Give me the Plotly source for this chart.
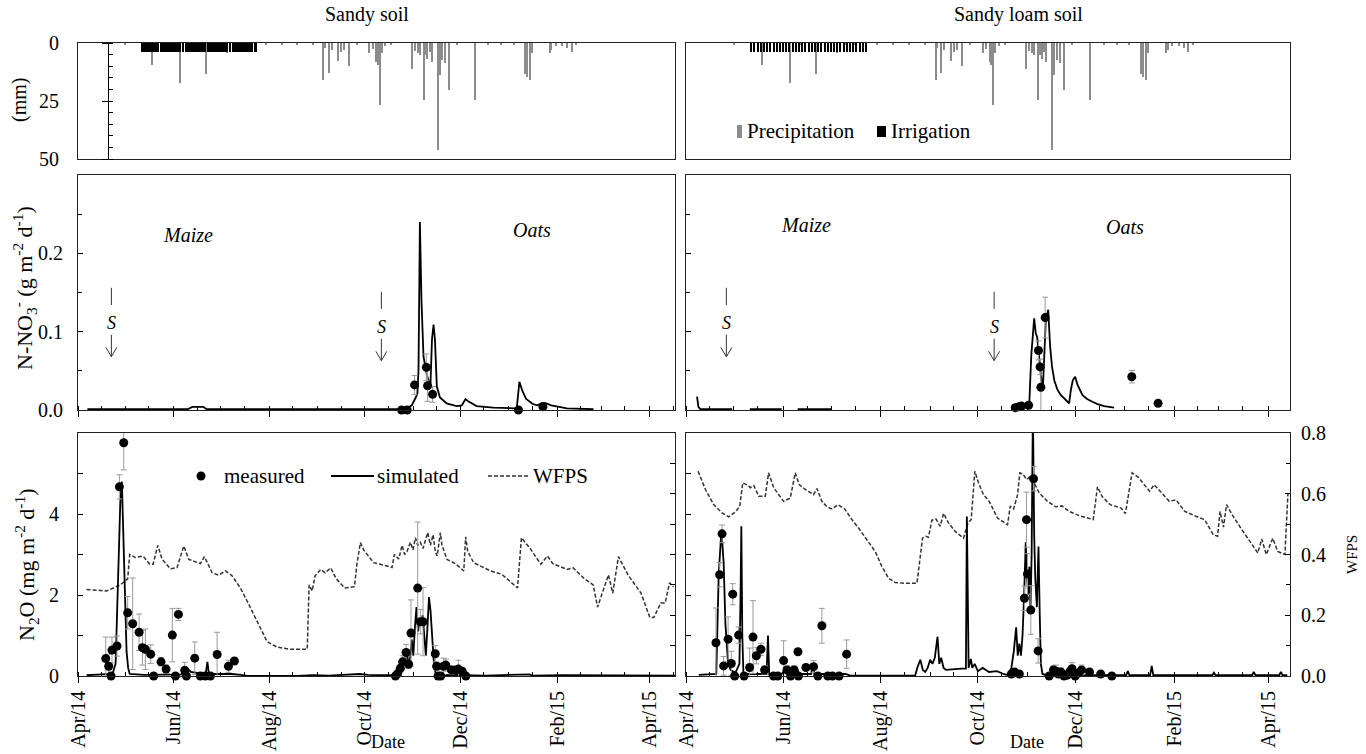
import pandas as pd
import plotly.graph_objects as go

W, H = 1366, 754
BASE = pd.Timestamp("2014-04-01")
FONT = "Liberation Serif"
DAY = 86400000

# ---------------- data (days after 1 Apr 2014) ----------------
precip_day = [30, 47.5, 55, 65, 72, 81.5, 95, 100, 106, 120,
              130, 140, 150, 156.5, 157.5, 160, 162, 166, 168, 170,
              173, 178, 186, 188, 190.5, 191.5, 192.5, 194, 196, 200,
              213.5, 215, 217, 218, 220.8, 222, 223, 224.5, 226, 229.5,
              231, 232.5, 234.5, 237, 242, 253.5, 262, 270, 278, 285.5,
              286.8, 288.3, 290, 301, 302, 305, 309, 312, 315, 318]
precip_mm = [1, 9.5, 1.2, 17.2, 0.8, 13.5, 4.5, 0.8, 1, 0.6,
             0.5, 0.8, 1, 15.8, 2, 12.8, 3, 7.6, 4, 3,
             10, 1, 4.5, 2.5, 8, 9.5, 26.7, 4.5, 1.5, 1,
             11, 3.5, 4.5, 5, 24.5, 5, 7, 4, 8, 46,
             14, 7.5, 8.5, 20.3, 1, 24.6, 0.8, 0.6, 0.5, 13.5,
             14.5, 15.8, 4.5, 4.5, 3, 1.5, 1.5, 2, 3.8, 1]
irr_day = [41, 43, 45, 47, 49, 51, 53, 55, 57, 59, 61, 63, 65, 67, 69, 71, 73, 75, 77,
           79, 81, 83, 85, 87, 89, 91, 93, 95, 97, 99, 101, 103, 105, 107, 109, 111, 113]
irr_mm = [3.8, 3.8, 3.8, 3.8, 3.8, 3.8, 3.8, 3.8, 3.8, 3.8, 3.8, 3.8, 3.8, 3.8, 3.8, 3.8, 3.8, 3.8, 3.8,
          3.8, 3.8, 3.8, 3.8, 3.8, 3.8, 3.8, 3.8, 3.8, 3.8, 3.8, 3.8, 3.8, 3.8, 3.8, 3.8, 3.8, 3.8]

# Sandy soil: nitrate leaching (g m-2 d-1)
sandy_no3_sim_day = [6, 40, 70, 73, 80, 82, 120, 160, 200, 206,
                     210, 213, 215.3, 216.6, 217.3, 218.2, 219.2, 220.5, 222.6, 224.9,
                     225.9, 226.9, 227.8, 229, 231, 235.3, 241.6, 245, 247.3, 249,
                     254.4, 265, 280, 281.7, 283.5, 286, 290, 293, 295.8, 298,
                     302, 312, 329]
sandy_no3_sim_val = [0.001, 0.001, 0.001, 0.004, 0.004, 0.001, 0.001, 0.001, 0.001, 0.001,
                     0.002, 0.006, 0.015, 0.021, 0.05, 0.24, 0.14, 0.068, 0.045, 0.03,
                     0.09, 0.109, 0.09, 0.03, 0.016, 0.0085, 0.005, 0.006, 0.014, 0.011,
                     0.005, 0.003, 0.002, 0.036, 0.025, 0.014, 0.008, 0.006, 0.0085, 0.009,
                     0.006, 0.002, 0.001]
sandy_no3_obs_day = [206.5, 210.1, 214.8, 222.3, 223.1, 226.3, 281.1, 296.7]
sandy_no3_obs_val = [0.0, 0.0, 0.032, 0.0545, 0.031, 0.02, 0.0, 0.004]
sandy_no3_obs_err = [0, 0, 0.012, 0.017, 0.02, 0.01, 0, 0]

# Sandy loam soil: nitrate leaching
loam_no3_sim_day = [6.9, 7.8, 9, 29, None, 40, 60, None, 70, 91,
                    None, 205, 210, 213, 215.2, 216.5, 218.3, 219.3, 220.2, 221.4,
                    222.9, 223.8, 224.6, 225.6, 227.1, 228.3, 229.5, 231, 232.9, 235,
                    237.1, 240.2, 241.3, 242.5, 244, 245.5, 248.6, 251.5, 254.8, 258,
                    262.2, 268.4]
loam_no3_sim_val = [0.017, 0.004, 0.001, 0.001, None, 0.001, 0.001, None, 0.001, 0.001,
                    None, 0.001, 0.003, 0.005, 0.006, 0.07, 0.117, 0.098, 0.093, 0.068,
                    0.038, 0.03, 0.06, 0.115, 0.128, 0.081, 0.055, 0.037, 0.026, 0.019,
                    0.015, 0.0085, 0.0255, 0.038, 0.0425, 0.032, 0.019, 0.014, 0.0106, 0.0075,
                    0.005, 0.003]
loam_no3_obs_day = [206.4, 208.5, 210.4, 214.8, 221, 222, 222.5, 225.2, 279.5, 296]
loam_no3_obs_val = [0.003, 0.004, 0.005, 0.006, 0.076, 0.055, 0.029, 0.118, 0.0425, 0.0085]
loam_no3_obs_err = [0, 0, 0, 0.003, 0.012, 0.01, 0.03, 0.026, 0.008, 0.004]

# Sandy soil: N2O (mg m-2 d-1)
sandy_n2o_sim_day = [5.5, 22, 24, 25, 26, 27, 28, 29, 30, 31,
                     32, 33, 42, 66, 68, 70, 72, 75, 80, 81.5,
                     82.6, 83.5, 90, 98, 104, 108, 140, 150, 160, 175,
                     180, 185, 190, 200, 203, 205, 207, 208, 209, 210,
                     211, 212, 213, 214, 215, 216, 217, 218, 219, 220,
                     221, 222, 223, 224, 225, 226, 227, 228, 229, 240,
                     260, 288, 290, 310, 340, 381]
sandy_n2o_sim_val = [0.02, 0.05, 0.3, 1.5, 3.2, 4.3, 4.8, 3.5, 1.8, 0.6,
                     0.2, 0.05, 0.03, 0.04, 0.15, 0.18, 0.1, 0.08, 0.05, 0.06,
                     0.35, 0.05, 0.05, 0.05, 0.03, 0.0, 0.0, 0.02, 0.01, 0.03,
                     0.05, 0.03, 0.02, 0.02, 0.05, 0.15, 0.35, 0.45, 0.3, 0.55,
                     0.3, 0.45, 0.9, 0.5, 1.2, 1.7, 1.1, 1.4, 1.3, 1.5,
                     1.0, 0.5, 1.2, 1.95, 1.6, 0.9, 0.4, 0.1, 0.02, 0.03,
                     0.01, 0.04, 0.01, 0.02, 0.02, 0.01]
sandy_n2o_obs_day = [17.7, 19.6, 21.1, 21.7, 24.9, 26.4, 29.2, 31.7, 34.9, 39,
                     41.1, 43, 46.4, 48.3, 53, 56.2, 60.2, 62.2, 64.1, 68.1,
                     69.2, 74.5, 78.1, 81.3, 84.5, 88.8, 96, 99.8, 202.6, 204,
                     205.7, 207.2, 209.4, 211, 212.5, 216.8, 218.5, 220.2, 228, 228.9,
                     229.8, 231.5, 233.2, 234.7, 238.3, 241.1, 242.8, 245.2, 247.5]
sandy_n2o_obs_val = [0.43, 0.24, 0.0, 0.64, 0.74, 4.67, 5.76, 1.56, 1.29, 1.08,
                     0.70, 0.66, 0.54, 0.0, 0.35, 0.17, 1.01, 0.0, 1.52, 0.14,
                     0.0, 0.44, 0.0, 0.0, 0.0, 0.53, 0.24, 0.37, 0.0, 0.06,
                     0.19, 0.35, 0.58, 0.29, 1.06, 2.17, 1.34, 1.34, 0.55, 0.24,
                     0.0, 0.0, 0.24, 0.27, 0.15, 0.15, 0.17, 0.12, 0.0]
sandy_n2o_obs_err = [0.53, 0.3, 0, 0.32, 0.25, 0.3, 0.67, 0.4, 1.13, 0.45,
                     0.43, 0.5, 0.23, 0, 0.1, 0.1, 0.66, 0, 0.15, 0.2,
                     0, 0.4, 0, 0, 0, 0.55, 0.15, 0.05, 0, 0.05,
                     0.1, 0.15, 0.2, 0.1, 0.82, 1.63, 0.3, 0.84, 0.2, 0.1,
                     0, 0, 0.2, 0.15, 0.1, 0.05, 0.22, 0.05, 0]
sandy_wfps_day = [5.5, 18.3, 27, 31.7, 33, 36.6, 41.5, 45.8, 47.9, 50.9,
                  53.7, 59, 63.2, 67.5, 70.7, 78.1, 80.7, 85.6, 89.8, 94.1,
                  98.3, 103.6, 107.9, 114.3, 120.7, 127, 135.5, 146.3, 147.5, 149.4,
                  151.3, 154.9, 157.7, 161.3, 164.8, 170.2, 176.4, 178, 180.2, 182.3,
                  188.7, 195.1, 200.4, 201.9, 204.7, 206.8, 208.5, 210, 212.1, 213.8,
                  215.3, 216.8, 218.5, 220.2, 223.2, 224.9, 226.6, 228, 229.2, 231.3,
                  232.3, 235.5, 240.8, 246.2, 247.4, 248.7, 252.5, 263.2, 270.4, 280.5,
                  283, 288.5, 295.4, 299.6, 303, 312.1, 316, 323.2, 328.8, 331.6,
                  338.5, 341.3, 344.9, 351, 359.3, 364.9, 367.5, 371.9, 374.7, 377.5,
                  380]
sandy_wfps_val = [0.285, 0.28, 0.30, 0.32, 0.40, 0.39, 0.395, 0.368, 0.368, 0.43,
                  0.384, 0.353, 0.357, 0.428, 0.384, 0.37, 0.393, 0.34, 0.332, 0.346,
                  0.33, 0.29, 0.247, 0.18, 0.113, 0.095, 0.088, 0.088, 0.30, 0.28,
                  0.33, 0.351, 0.34, 0.356, 0.32, 0.29, 0.294, 0.368, 0.439, 0.415,
                  0.373, 0.365, 0.357, 0.40, 0.385, 0.43, 0.40, 0.41, 0.44, 0.415,
                  0.455, 0.43, 0.44, 0.42, 0.472, 0.43, 0.465, 0.41, 0.395, 0.472,
                  0.43, 0.384, 0.37, 0.346, 0.458, 0.41, 0.373, 0.346, 0.335, 0.29,
                  0.455, 0.42, 0.368, 0.395, 0.37, 0.351, 0.356, 0.32, 0.30, 0.227,
                  0.333, 0.273, 0.393, 0.333, 0.273, 0.193, 0.193, 0.24, 0.24, 0.307,
                  0.293]

# Sandy loam soil: N2O
loam_n2o_sim_day = [8, 19, 20.5, 22.2, 23.6, 24.7, 26.4, 28, 31, 33.5,
                    34.2, 34.7, 35.3, 36, 40, 50.5, 51.4, 52.2, 60, 62,
                    65, 67, 69.5, 71, 78.5, 79.6, 80.5, 85, 100, 103,
                    143.7, 145, 146.9, 148.5, 150, 151.5, 153.1, 154.5, 156, 157.7,
                    158.8, 160, 161.5, 163, 172.7, 175.5, 176.1, 177.2, 178.6, 179.5,
                    181, 183, 186, 190, 195, 199, 202, 204, 205.5, 207,
                    208, 209, 210, 211, 212, 213, 213.7, 214.5, 215.3, 216,
                    216.7, 217.5, 218.3, 219, 220, 221, 221.8, 222.5, 223.5, 226,
                    250, 276, 277, 278, 291, 292, 293, 330, 331, 332,
                    355, 356, 357, 372, 373, 374, 377]
loam_n2o_sim_val = [0.03, 0.05, 2.5, 3.6, 2.8, 1.3, 0.3, 0.15, 0.08, 0.3,
                    2.0, 3.7, 1.0, 0.05, 0.05, 0.05, 1.0, 0.03, 0.05, 0.15,
                    0.08, 0.12, 0.2, 0.05, 0.05, 0.31, 0.03, 0.05, 0.05, 0.01,
                    0.01, 0.2, 0.4, 0.15, 0.1, 0.2, 0.4, 0.3, 0.45, 0.97,
                    0.3, 0.45, 0.2, 0.15, 0.18, 0.18, 3.94, 0.2, 0.42, 0.2,
                    0.3, 0.12, 0.2, 0.1, 0.12, 0.05, 0.02, 0.2, 0.6, 1.2,
                    0.5, 0.8, 0.5, 1.0, 2.0, 3.3, 2.6, 2.0, 2.7, 1.6,
                    3.0, 6.6, 3.5, 2.4, 1.7, 3.2, 1.5, 0.3, 0.05, 0.02,
                    0.02, 0.02, 0.12, 0.02, 0.02, 0.25, 0.02, 0.02, 0.08, 0.02,
                    0.02, 0.1, 0.02, 0.02, 0.1, 0.02, 0.02]
loam_n2o_obs_day = [18.8, 21.1, 22.6, 23.6, 26.4, 28.4, 29.3, 30.5, 33, 36.4,
                    39.9, 42, 44.1, 47, 49.3, 54.9, 57.6, 61.2, 63.3, 65.6,
                    67.7, 70.2, 70.5, 75.2, 80, 82.7, 85.2, 88.9, 91.8, 96,
                    100.7, 204, 206, 209, 212.2, 213.5, 214.1, 216.2, 217.9, 220.8,
                    227.7, 230.4, 232, 233.5, 235, 237, 239, 240.5, 242, 244,
                    246, 248, 253, 260, 267]
loam_n2o_obs_val = [0.82, 2.5, 3.51, 0.25, 0.91, 0.31, 2.02, 0.0, 1.01, 0.0,
                    0.21, 0.96, 0.5, 0.66, 0.15, 0.0, 0.0, 0.38, 0.15, 0.0,
                    0.15, 0.6, 0.0, 0.21, 0.23, 0.0, 1.24, 0.0, 0.0, 0.0,
                    0.54, 0.05, 0.1, 0.05, 1.92, 3.86, 2.52, 1.63, 4.87, 0.62,
                    0.0, 0.15, 0.12, 0.05, 0.1, 0.0, 0.02, 0.1, 0.18, 0.0,
                    0.07, 0.15, 0.1, 0.05, 0.0]
loam_n2o_obs_err = [0.86, 0.3, 0.22, 0.23, 0.55, 0.3, 0.26, 0, 0.2, 0,
                    0.48, 0.9, 0.2, 0.15, 0.1, 0, 0, 0.49, 0.1, 0,
                    0.1, 0, 0, 0, 0.15, 0, 0.43, 0, 0, 0,
                    0.35, 0, 0, 0, 0.3, 0.68, 0.5, 0.6, 0.3, 0.3,
                    0, 0.1, 0.15, 0.1, 0.1, 0, 0, 0.1, 0.15, 0,
                    0.1, 0.12, 0, 0, 0]
loam_wfps_day = [7.6, 12.2, 17.4, 22.6, 26.8, 31, 33.7, 35.6, 39, 40.4,
                 42.5, 45.6, 49.7, 51.8, 55, 61.2, 65.4, 68.5, 71, 74.8,
                 80, 82.1, 85.2, 88.4, 91.5, 95.3, 99.5, 104, 108.2, 113.4,
                 118.6, 122.8, 127, 131.2, 137.5, 144.8, 148.3, 150.4, 152, 154.2,
                 156.7, 159.4, 161.5, 164.6, 168.8, 174, 176.7, 178.8, 181.1, 183.4,
                 186.5, 190.1, 195.3, 201.6, 203.3, 205.4, 207.9, 209.3, 211.4, 213.5,
                 215.5, 217.7, 221.4, 226.6, 231.9, 235.7, 240.2, 246.5, 251.7, 255.3,
                 258, 261, 266, 272.8, 275.5, 279.7, 283.8, 290.7, 293.5, 298.9,
                 303, 307.2, 312.7, 319.6, 325.1, 330.6, 333.3, 334.8, 337, 338.9,
                 343, 348.5, 354.4, 358.5, 361, 363.8, 367.9, 371, 375.5, 377.4]
loam_wfps_val = [0.674, 0.614, 0.564, 0.537, 0.524, 0.54, 0.559, 0.636, 0.627, 0.62,
                 0.627, 0.592, 0.592, 0.669, 0.62, 0.575, 0.586, 0.669, 0.63, 0.614,
                 0.597, 0.617, 0.575, 0.557, 0.55, 0.564, 0.55, 0.515, 0.487, 0.449,
                 0.41, 0.361, 0.322, 0.308, 0.305, 0.305, 0.454, 0.46, 0.457, 0.513,
                 0.517, 0.493, 0.535, 0.504, 0.476, 0.454, 0.502, 0.515, 0.674, 0.636,
                 0.597, 0.575, 0.52, 0.498, 0.559, 0.55, 0.597, 0.669, 0.664, 0.647,
                 0.655, 0.642, 0.603, 0.575, 0.557, 0.56, 0.542, 0.528, 0.52, 0.515,
                 0.623, 0.59, 0.564, 0.553, 0.535, 0.669, 0.653, 0.608, 0.63, 0.597,
                 0.575, 0.58, 0.542, 0.526, 0.515, 0.465, 0.46, 0.542, 0.49, 0.564,
                 0.526, 0.482, 0.438, 0.405, 0.451, 0.40, 0.453, 0.41, 0.40, 0.60]

# sowing dates (S) and crop labels
sow_sandy_day = [21.3, 193.6]
sow_loam_day = [25.3, 193.2]
crop_labels = ["Maize", "Oats"]
crop_sandy_day = [70, 290]
crop_sandy_y = [0.2235, 0.23]
crop_loam_day = [75.4, 275.3]
crop_loam_y = [0.236, 0.234]

tick_dates = ["2014-04-01", "2014-06-01", "2014-08-01", "2014-10-01",
              "2014-12-01", "2015-02-01", "2015-04-01"]
tick_labels = ["Apr/14", "Jun/14", "Aug/14", "Oct/14", "Dec/14", "Feb/15", "Apr/15"]


# ---------------- helpers ----------------
def dates(days):
    out = []
    for v in days:
        if v is None:
            out.append(None)
        else:
            out.append((BASE + pd.Timedelta(days=float(v))).strftime("%Y-%m-%d %H:%M:%S"))
    return out


def px(x):
    return x / W


def py(y):
    return 1 - y / H


minor_dates = []
for m in pd.date_range("2014-04-01", "2015-05-01", freq="MS"):
    minor_dates.append(m.strftime("%Y-%m-%d"))
    minor_dates.append((m + pd.Timedelta(days=15)).strftime("%Y-%m-%d"))

XL = [px(78), px(675)]
XR = [px(686), px(1290)]
YT = [py(159), py(43)]
YM = [py(410), py(175)]
YB = [py(676), py(433)]
RL = dates([0, 381])
RR = dates([0, 378.7])

TF = dict(family=FONT, size=20, color="black")

fig = go.Figure()

# ---- precipitation / irrigation ----
for xa, ya, iw in (("x", "y", 1.9), ("x4", "y5", 0.9)):
    fig.add_trace(go.Bar(x=dates(precip_day), y=precip_mm, width=0.7 * DAY,
                         marker=dict(color="#8c8c8c", line=dict(width=0)),
                         xaxis=xa, yaxis=ya, showlegend=False))
    fig.add_trace(go.Bar(x=dates(irr_day), y=irr_mm, width=iw * DAY,
                         marker=dict(color="black", line=dict(width=0)),
                         xaxis=xa, yaxis=ya, showlegend=False))
fig.add_trace(go.Scatter(x=[], y=[], xaxis="x", yaxis="y9", showlegend=False))

SIM = dict(color="black", width=1.8)
WF = dict(color="#333333", width=1.5, dash="4px,2px")
MK = dict(color="black", size=9)
EB = dict(type="data", visible=True, color="#9a9a9a", thickness=1, width=3)

# ---- nitrate ----
for xa, ya, sd, sv, od, ov, oe in (
        ("x2", "y2", sandy_no3_sim_day, sandy_no3_sim_val, sandy_no3_obs_day, sandy_no3_obs_val, sandy_no3_obs_err),
        ("x5", "y6", loam_no3_sim_day, loam_no3_sim_val, loam_no3_obs_day, loam_no3_obs_val, loam_no3_obs_err)):
    fig.add_trace(go.Scatter(x=dates(sd), y=sv, mode="lines", line=SIM, connectgaps=False,
                             xaxis=xa, yaxis=ya, showlegend=False))
    fig.add_trace(go.Scatter(x=dates(od), y=ov, mode="markers", marker=MK,
                             error_y=dict(array=oe, **EB), cliponaxis=False,
                             xaxis=xa, yaxis=ya, showlegend=False))

# ---- N2O + WFPS ----
for xa, yw, yn, wd, wv, sd, sv, od, ov, oe in (
        ("x3", "y3", "y4", sandy_wfps_day, sandy_wfps_val, sandy_n2o_sim_day, sandy_n2o_sim_val,
         sandy_n2o_obs_day, sandy_n2o_obs_val, sandy_n2o_obs_err),
        ("x6", "y7", "y8", loam_wfps_day, loam_wfps_val, loam_n2o_sim_day, loam_n2o_sim_val,
         loam_n2o_obs_day, loam_n2o_obs_val, loam_n2o_obs_err)):
    fig.add_trace(go.Scatter(x=dates(wd), y=wv, mode="lines", line=WF,
                             xaxis=xa, yaxis=yw, showlegend=False))
    fig.add_trace(go.Scatter(x=dates(sd), y=sv, mode="lines", line=SIM,
                             xaxis=xa, yaxis=yn, showlegend=False))
    fig.add_trace(go.Scatter(x=dates(od), y=ov, mode="markers", marker=MK,
                             error_y=dict(array=oe, **EB), cliponaxis=False,
                             xaxis=xa, yaxis=yn, showlegend=False))


# ---------------- axes ----------------
def xaxis(domain, anchor, rng, kind):
    d = dict(domain=domain, anchor=anchor, range=rng, type="date", showgrid=False,
             zeroline=False, showline=True, linecolor="#222", linewidth=1, mirror=True,
             automargin=False)
    if kind == "top":
        d.update(ticks="", showticklabels=False)
    else:
        d.update(tickmode="array", tickvals=tick_dates, ticktext=tick_labels,
                 ticks="outside", ticklen=6, tickcolor="black", tickwidth=1,
                 showticklabels=(kind == "bottom"), tickangle=-90, tickfont=TF,
                 minor=dict(tickmode="array", tickvals=minor_dates, ticks="inside",
                            ticklen=4, tickcolor="black", tickwidth=1, showgrid=False))
    return d


def yaxis(**kw):
    d = dict(showgrid=False, zeroline=False, showline=True, linecolor="#222", linewidth=1,
             tickfont=TF, tickcolor="black", tickwidth=1, automargin=False)
    d.update(kw)
    return d


fig.update_layout(
    template="none",
    width=W, height=H, margin=dict(l=0, r=0, t=0, b=0, pad=0), autosize=False,
    paper_bgcolor="white", plot_bgcolor="white", barmode="overlay", bargap=0,
    showlegend=False, font=dict(family=FONT, color="black"),
    xaxis=xaxis(XL, "y", RL, "top"),
    xaxis2=xaxis(XL, "y2", RL, "mid"),
    xaxis3=xaxis(XL, "y3", RL, "bottom"),
    xaxis4=xaxis(XR, "y5", RR, "top"),
    xaxis5=xaxis(XR, "y6", RR, "mid"),
    xaxis6=xaxis(XR, "y7", RR, "bottom"),
    yaxis=yaxis(domain=YT, anchor="x", range=[50, 0], tickmode="array", tickvals=[0, 25, 50],
                ticks="", mirror=True, ticklabelstandoff=14),
    yaxis9=yaxis(overlaying="y", anchor="free", position=px(108), range=[50, 0],
                 tickmode="array", tickvals=[0, 25, 50], ticks="outside", ticklen=6,
                 showticklabels=False, linecolor="black",
                 minor=dict(dtick=5, tick0=0, ticks="inside", ticklen=4, tickcolor="black")),
    yaxis2=yaxis(domain=YM, anchor="x2", range=[0, 0.3], tickmode="array",
                 tickvals=[0, 0.1, 0.2], tickformat=".1f", ticks="inside", ticklen=5,
                 mirror=True, ticklabelstandoff=10,
                 minor=dict(tickmode="array", tickvals=[0.05, 0.15, 0.25], ticks="inside",
                            ticklen=4, tickcolor="black")),
    yaxis3=yaxis(domain=YB, anchor="x3", side="right", range=[0, 0.8], dtick=0.1,
                 ticks="inside", ticklen=5, showticklabels=False, mirror=True),
    yaxis4=yaxis(overlaying="y3", anchor="x3", side="left", range=[0, 6], tickmode="array",
                 tickvals=[0, 2, 4], ticks="inside", ticklen=5, ticklabelstandoff=14,
                 minor=dict(tickmode="array", tickvals=[1, 3, 5], ticks="inside", ticklen=5,
                            tickcolor="black")),
    yaxis5=yaxis(domain=YT, anchor="x4", range=[50, 0], ticks="", showticklabels=False,
                 mirror=True),
    yaxis6=yaxis(domain=YM, anchor="x5", range=[0, 0.3], tickmode="array",
                 tickvals=[0, 0.1, 0.2], ticks="inside", ticklen=5, showticklabels=False,
                 mirror=True,
                 minor=dict(tickmode="array", tickvals=[0.05, 0.15, 0.25], ticks="inside",
                            ticklen=4, tickcolor="black")),
    yaxis7=yaxis(domain=YB, anchor="x6", side="right", range=[0, 0.8], tickmode="array",
                 tickvals=[0, 0.2, 0.4, 0.6, 0.8], tickformat=".1f", ticks="inside",
                 ticklen=5, mirror=True, ticklabelstandoff=6,
                 minor=dict(tickmode="array", tickvals=[0.1, 0.3, 0.5, 0.7], ticks="inside",
                            ticklen=4, tickcolor="black")),
    yaxis8=yaxis(overlaying="y7", anchor="x6", side="left", range=[0, 6], dtick=1,
                 ticks="inside", ticklen=5, showticklabels=False),
)

# ---------------- annotations & shapes ----------------
ann = []
shapes = []


def text(x, y, t, size=20, angle=0, xanchor="center", yanchor="middle", **kw):
    d = dict(x=x, y=y, xref="paper", yref="paper", text=t, showarrow=False,
             font=dict(family=FONT, size=size, color="black"), textangle=angle,
             xanchor=xanchor, yanchor=yanchor)
    d.update(kw)
    ann.append(d)


text(px(367), py(15), "Sandy soil", 20)
text(px(1018), py(15), "Sandy loam soil", 20)
text(px(20), py(100), "(mm)", 20, -90)
text(px(24), py(288), "N-NO<sub>3</sub><sup>-</sup> (g m<sup>-2</sup> d<sup>-1</sup>)", 22, -90)
text(px(26), py(565), "N<sub>2</sub>O (mg m<sup>-2</sup> d<sup>-1</sup>)", 22, -90)
text(px(388), py(753), "Date", 18, yanchor="bottom", borderpad=0)
text(px(1027), py(753), "Date", 18, yanchor="bottom", borderpad=0)
text(px(1352), py(555), "WFPS", 15, -90)

# precipitation legend
shapes.append(dict(type="rect", xref="paper", yref="paper", x0=px(737), x1=px(742),
                   y0=py(138), y1=py(125), fillcolor="#8c8c8c", line=dict(width=0)))
text(px(745), py(131), "Precipitation", 21, xanchor="left")
shapes.append(dict(type="rect", xref="paper", yref="paper", x0=px(877), x1=px(886),
                   y0=py(137), y1=py(126), fillcolor="black", line=dict(width=0)))
text(px(889), py(131), "Irrigation", 21, xanchor="left")

# N2O legend
shapes.append(dict(type="circle", xref="paper", yref="paper", x0=px(196.5), x1=px(205.5),
                   y0=py(480.5), y1=py(471.5), fillcolor="black", line=dict(width=0)))
text(px(222), py(476), "measured", 21, xanchor="left")
shapes.append(dict(type="line", xref="paper", yref="paper", x0=px(331), x1=px(374),
                   y0=py(476), y1=py(476), line=dict(color="black", width=2)))
text(px(375), py(476), "simulated", 21, xanchor="left")
shapes.append(dict(type="line", xref="paper", yref="paper", x0=px(488), x1=px(530),
                   y0=py(476), y1=py(476), line=dict(color="#333", width=1.5, dash="4px,2px")))
text(px(531), py(476), "WFPS", 21, xanchor="left")

# crop names and sowing arrows
for xa, ya, cd, cy, sow in (("x2", "y2", crop_sandy_day, crop_sandy_y, sow_sandy_day),
                            ("x5", "y6", crop_loam_day, crop_loam_y, sow_loam_day)):
    for lab, dd, yy in zip(crop_labels, cd, cy):
        ann.append(dict(x=dates([dd])[0], y=yy, xref=xa, yref=ya, text="<i>%s</i>" % lab,
                        showarrow=False, font=dict(family=FONT, size=20, color="black")))
    for k, sd in enumerate(sow):
        off = -0.005 * k
        xs = dates([sd])[0]
        shapes.append(dict(type="line", xref=xa, yref=ya, x0=xs, x1=xs,
                           y0=0.134 + off, y1=0.156 + off, line=dict(color="#333", width=1)))
        ann.append(dict(x=xs, y=0.111 + off, xref=xa, yref=ya, text="<i>S</i>", showarrow=False,
                        font=dict(family=FONT, size=18, color="black")))
        shapes.append(dict(type="line", xref=xa, yref=ya, x0=xs, x1=xs,
                           y0=0.068 + off, y1=0.096 + off, line=dict(color="#333", width=1)))
        for side in (-3.5, 3.5):
            shapes.append(dict(type="line", xref=xa, yref=ya, x0=dates([sd + side])[0], x1=xs,
                               y0=0.080 + off, y1=0.068 + off, line=dict(color="#333", width=1)))

fig.update_layout(annotations=ann, shapes=shapes)
fig.write_html("out.html")
